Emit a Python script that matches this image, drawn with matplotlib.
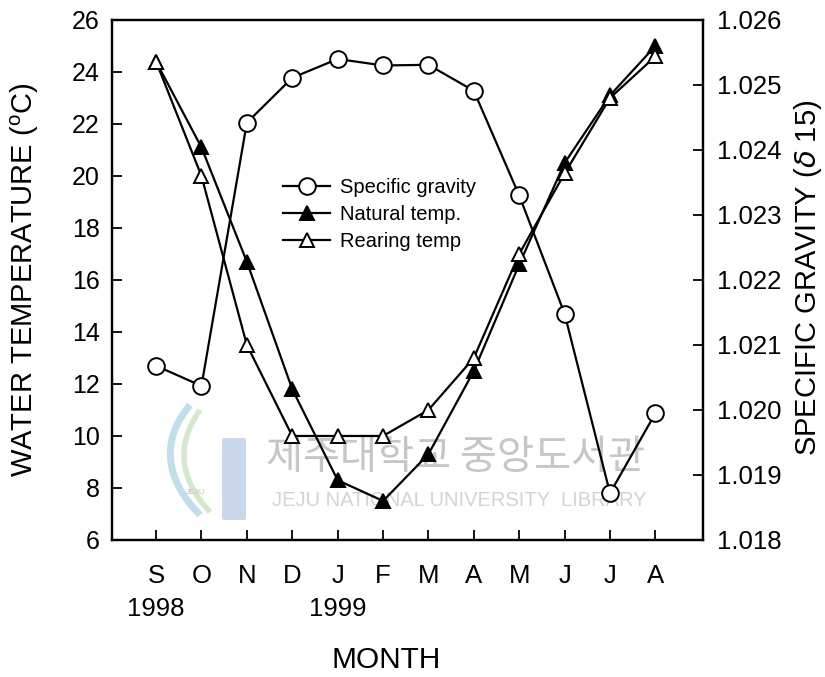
import matplotlib
matplotlib.use('Agg')
import matplotlib.pyplot as plt
from matplotlib.path import Path
from matplotlib.patches import PathPatch, FancyBboxPatch
from matplotlib.ticker import FormatStrFormatter

plt.rcParams['font.family'] = ['Liberation Sans', 'DejaVu Sans']
plt.rcParams['mathtext.default'] = 'regular'

# monthly records, Sep 1998 - Aug 1999
months = ['S', 'O', 'N', 'D', 'J', 'F', 'M', 'A', 'M', 'J', 'J', 'A']
specific_gravity = [1.02068, 1.02037, 1.02442, 1.02511, 1.02540, 1.02530,
                    1.02531, 1.02491, 1.02330, 1.02148, 1.01872, 1.01995]
natural_temp = [24.4, 21.1, 16.7, 11.8, 8.3, 7.5, 9.3, 12.5, 16.6, 20.5, 23.1, 25.0]
rearing_temp = [24.4, 20.0, 13.5, 10.0, 10.0, 10.0, 11.0, 13.0, 17.0, 20.1, 23.0, 24.6]
years = ['1998', '1999']
year_pos = [0, 4]

x = list(range(len(months)))

fig = plt.figure(figsize=(8.25, 6.77), dpi=100)

# library watermark on a background layer (pixel coordinates)
bg = fig.add_axes([0, 0, 1, 1], zorder=-1)
bg.set_xlim(0, 825)
bg.set_ylim(677, 0)
bg.axis('off')
bg.text(455, 458, '제주대학교 중앙도서관', fontsize=29, color='#c6c6c6',
        ha='center', va='center', family=['Noto Sans CJK KR', 'DejaVu Sans'])
bg.text(459, 501, 'JEJU NATIONAL UNIVERSITY  LIBRARY', fontsize=14.5,
        color='#d4d4d4', ha='center', va='center')
swoosh = Path([(190, 405), (160, 440), (165, 480), (200, 515)],
              [Path.MOVETO, Path.CURVE4, Path.CURVE4, Path.CURVE4])
bg.add_patch(PathPatch(swoosh, facecolor='none', edgecolor='#bfe0ea', lw=5))
swoosh2 = Path([(200, 410), (175, 445), (180, 480), (210, 512)],
               [Path.MOVETO, Path.CURVE4, Path.CURVE4, Path.CURVE4])
bg.add_patch(PathPatch(swoosh2, facecolor='none', edgecolor='#d6e8cc', lw=4))
bg.add_patch(FancyBboxPatch((224, 440), 20, 78, boxstyle='round,pad=2',
                            facecolor='#cbd7ec', edgecolor='none'))
bg.text(196, 492, 'JEJU', fontsize=6, color='#c4c4c4', ha='center', va='center')

ax = fig.add_axes([0.1358, 0.2024, 0.7164, 0.7681])
ax2 = ax.twinx()
ax.patch.set_alpha(0)
ax2.patch.set_alpha(0)

line_kw = dict(color='black', linewidth=1.6, markeredgewidth=1.4, clip_on=False)
h_nat, = ax.plot(x, natural_temp, marker='^', markersize=10.5,
                 markerfacecolor='black', markeredgecolor='black', zorder=4, **line_kw)
h_rear, = ax.plot(x, rearing_temp, marker='^', markersize=10.5,
                  markerfacecolor='white', markeredgecolor='black', zorder=5, **line_kw)
h_sg, = ax2.plot(x, specific_gravity, marker='o', markersize=12,
                 markerfacecolor='white', markeredgecolor='black', zorder=4, **line_kw)

ax.set_xlim(-0.97, 12.05)
ax.set_ylim(6, 26)
ax.set_yticks(range(6, 27, 2))
ax.set_xticks(x)
ax.set_xticklabels(months, fontsize=18.5)
ax.tick_params(axis='y', labelsize=18, pad=9)
ax.tick_params(axis='x', pad=17)
ax.tick_params(direction='in', length=7, width=1.3)
ax2.set_ylim(1.018, 1.026)
ax2.set_yticks([1.018 + 0.001 * i for i in range(9)])
ax2.yaxis.set_major_formatter(FormatStrFormatter('%.3f'))
ax2.tick_params(direction='in', length=7, width=1.3, pad=10, labelsize=18.5)

for a in (ax, ax2):
    for s in a.spines.values():
        s.set_linewidth(1.6)

for yr, pos in zip(years, year_pos):
    ax.annotate(yr, xy=(pos, 0), xycoords=('data', 'axes fraction'),
                xytext=(0, -41), textcoords='offset points',
                ha='center', va='top', fontsize=18.5)

ax.set_ylabel('WATER TEMPERATURE ($^{o}$C)', fontsize=21)
ax2.set_ylabel(r'SPECIFIC GRAVITY ($\it{\delta}$ 15)', fontsize=21)
ax.yaxis.set_label_coords(-0.121, 0.5)
ax2.yaxis.set_label_coords(1.151, 0.505)
fig.text(0.468, 0.025, 'MONTH', fontsize=21.5, ha='center', va='center')

ax2.legend([h_sg, h_nat, h_rear], ['Specific gravity', 'Natural temp.', 'Rearing temp'],
           loc='upper left', bbox_to_anchor=(0.273, 0.715), frameon=False,
           fontsize=14.5, handlelength=2.3, handletextpad=0.5, labelspacing=0.4,
           borderpad=0)

fig.savefig('out.png', dpi=100)
